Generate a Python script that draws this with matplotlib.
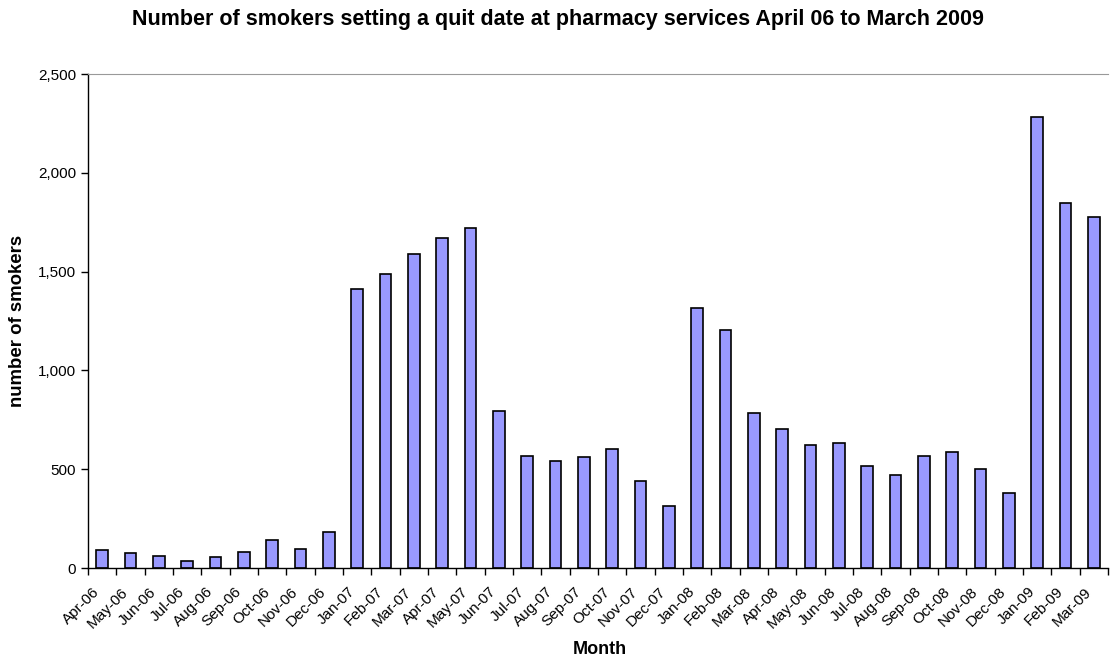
import numpy as np
import matplotlib
matplotlib.use("Agg")
import matplotlib.pyplot as plt
from matplotlib.ticker import FuncFormatter, FixedLocator
from matplotlib.transforms import ScaledTranslation

plt.rcParams['font.family'] = ['Liberation Sans', 'DejaVu Sans']

# Monthly counts
months = ['Apr-06', 'May-06', 'Jun-06', 'Jul-06', 'Aug-06', 'Sep-06', 'Oct-06', 'Nov-06', 'Dec-06',
          'Jan-07', 'Feb-07', 'Mar-07', 'Apr-07', 'May-07', 'Jun-07', 'Jul-07', 'Aug-07', 'Sep-07',
          'Oct-07', 'Nov-07', 'Dec-07', 'Jan-08', 'Feb-08', 'Mar-08', 'Apr-08', 'May-08', 'Jun-08',
          'Jul-08', 'Aug-08', 'Sep-08', 'Oct-08', 'Nov-08', 'Dec-08', 'Jan-09', 'Feb-09', 'Mar-09']
smokers = [90, 76, 61, 37, 57, 83, 140, 98, 181,
           1413, 1489, 1589, 1668, 1721, 793, 567, 542, 561,
           601, 441, 313, 1315, 1204, 784, 704, 621, 631,
           517, 473, 567, 586, 502, 380, 2280, 1845, 1774]
yticks = [0, 500, 1000, 1500, 2000, 2500]

title = 'Number of smokers setting a quit date at pharmacy services April 06 to March 2009'

W, H = 1110, 662
fig = plt.figure(figsize=(W / 100, H / 100), dpi=100)
ax = fig.add_axes([88 / W, 1 - 568 / H, (1108 - 88) / W, (568 - 74) / H])

x = np.arange(len(months))
ax.bar(x, smokers, width=0.42, color='#9999FF', edgecolor='black', linewidth=1.2)

ax.set_xlim(-0.5, len(months) - 0.5)
ax.set_ylim(0, 2500)
ax.set_yticks(yticks)
ax.yaxis.set_major_formatter(FuncFormatter(lambda v, p: f'{int(v):,}'))

# labels at bar centres, tick marks between categories like Excel does
ax.set_xticks(x)
ax.set_xticklabels(months, rotation=45, ha='right', rotation_mode='anchor', fontsize=11)
ax.tick_params(axis='x', length=0, pad=12)
shift = ScaledTranslation(-7 / 72, 0, fig.dpi_scale_trans)
for lbl in ax.get_xticklabels():
    lbl.set_transform(lbl.get_transform() + shift)
ax.xaxis.set_minor_locator(FixedLocator(np.arange(-0.5, len(months), 1.0)))
ax.tick_params(axis='x', which='minor', length=5, direction='out', width=1)
ax.tick_params(axis='y', length=5, direction='out', labelsize=11, width=1)

ax.spines['right'].set_visible(False)
ax.spines['top'].set_color('#999999')
ax.spines['left'].set_linewidth(1)
ax.spines['bottom'].set_linewidth(1)

fig.text(600 / W, 1 - 650 / H, 'Month', ha='center', va='center', fontsize=13, fontweight='bold')
fig.text(18 / W, 1 - 321 / H, 'number of smokers', ha='center', va='center', rotation=90,
         fontsize=13.4, fontweight='bold')
fig.text(558 / W, 1 - 20 / H, title, ha='center', va='center', fontsize=15.5, fontweight='bold')

fig.savefig('out.png', dpi=100)
